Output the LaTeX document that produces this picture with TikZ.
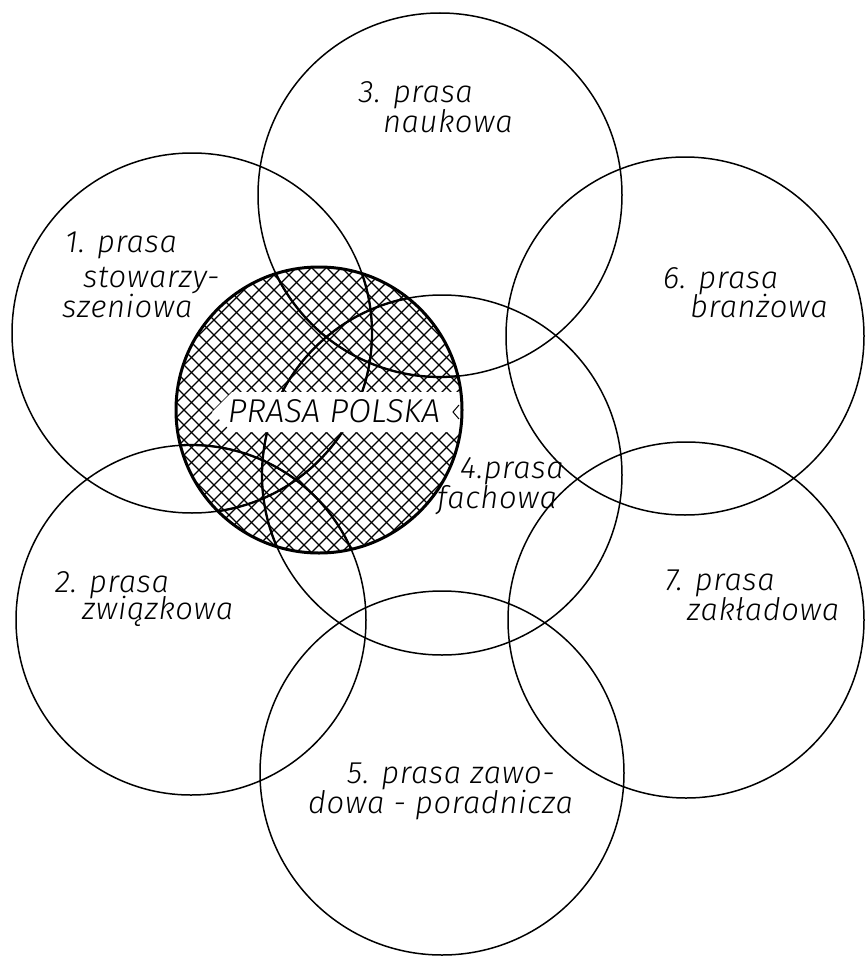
\documentclass[tikz,border=0pt]{standalone}
\usepackage{fontspec}
\setmainfont{Fira Sans}[ItalicFont={Fira Sans Light Italic}]
\tikzset{
  ring/.style={draw, circle, line width=1.5pt, inner sep=0pt},
  lbl/.style={font=\fontsize{31}{36}\selectfont\itshape\addfontfeature{LetterSpace=2}, inner sep=0pt},
  hatchline/.style={line width=1.2pt},
  thickarc/.style={line width=2.3pt},
}
\begin{document}
\begin{tikzpicture}[x=1pt,y=-1pt]
\useasboundingbox (0,0) rectangle (865,958);
% outer circles
\node[ring, minimum size=360pt] (c1) at (192,333) {};
\node[ring, minimum size=350pt] (c2) at (191,620) {};
\node[ring, minimum size=364pt] (c3) at (440,195) {};
\node[ring, minimum size=360pt] (c4) at (442,475) {};
\node[ring, minimum size=364pt] (c5) at (442,773) {};
\node[ring, minimum size=358pt] (c6) at (685,336) {};
\node[ring, minimum size=356pt] (c7) at (686,620) {};
% hatched circle
\coordinate (P) at (319,410);
\begin{scope}
  \clip (P) circle (143pt);
  \foreach \k in {-24,...,24} {
    \draw[hatchline] ([shift={(\k*15-170,-170)}]P) -- ++(340,340);
    \draw[hatchline] ([shift={(\k*15+170,-170)}]P) -- ++(-340,340);
  }
  \draw[thickarc] (c1.center) circle (180pt);
  \draw[thickarc] (c2.center) circle (175pt);
  \draw[thickarc] (c3.center) circle (182pt);
  \draw[thickarc] (c4.center) circle (180pt);
  \fill[white] (212,412) -- (232,392) -- (470,392) -- (470,432) -- (232,432) -- cycle;
  \draw[line width=1pt] (459,405) -- (453,412) -- (459,419);
\end{scope}
\node[lbl, font=\fontsize{33}{36}\selectfont\itshape, anchor=base] (pp) at (334,422) {PRASA POLSKA};
\node[draw, circle, line width=3pt, minimum size=286pt, inner sep=0pt] (hc) at (P) {};
% labels
\node[lbl, anchor=base west] (l1a) at (65,252) {1. prasa};
\node[lbl, anchor=base west] (l1b) at (83,287) {stowarzy-};
\node[lbl, anchor=base west] (l1c) at (62,317) {szeniowa};
\node[lbl, anchor=base east] (l3a) at (473,102) {3. prasa};
\node[lbl, anchor=base east] (l3b) at (513,132) {naukowa};
\node[lbl, anchor=base west] (l6a) at (663,288) {6. prasa};
\node[lbl, anchor=base west] (l6b) at (690,317) {branżowa};
\node[lbl, anchor=base west] (l4a) at (460,478) {4.prasa};
\node[lbl, anchor=base west] (l4b) at (437,508) {fachowa};
\node[lbl, anchor=base west] (l2a) at (55,592) {2. prasa};
\node[lbl, anchor=base west] (l2b) at (82,619) {związkowa};
\node[lbl, anchor=base west] (l7a) at (665,590) {7. prasa};
\node[lbl, anchor=base west] (l7b) at (687,620) {zakładowa};
\node[lbl, anchor=base west] (l5a) at (347,783) {5. prasa zawo-};
\node[lbl, anchor=base west] (l5b) at (308,813) {dowa - poradnicza};
\end{tikzpicture}
\end{document}
